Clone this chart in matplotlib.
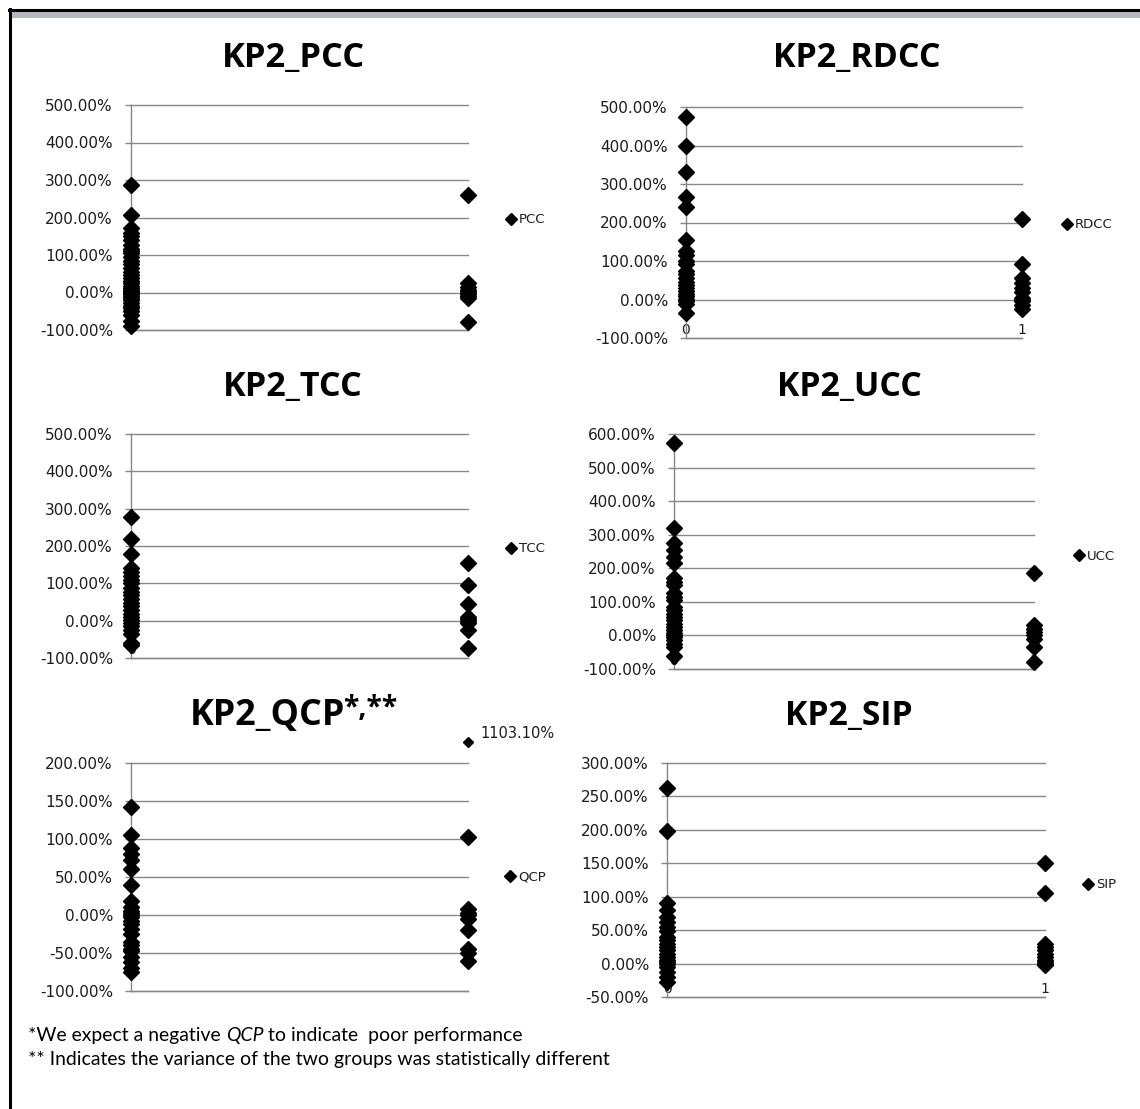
import matplotlib
matplotlib.use('Agg')
import matplotlib.pyplot as plt
from matplotlib.ticker import FuncFormatter, MultipleLocator
from matplotlib.lines import Line2D
from matplotlib.patches import Rectangle

# ---------------- data (percent values) ----------------
groups = [0, 1]
group_labels = ['0', '1']

pcc_0 = [288, 208, 172, 160, 150, 140, 128, 115, 110, 105, 95, 85, 75, 65, 55, 48, 40,
         32, 25, 18, 12, 8, 4, 1, -2, -5, -10, -15, -20, -28, -35, -42, -50, -60, -75, -88]
pcc_1 = [260, 25, 15, 8, 3, 0, -3, -8, -15, -78]

rdcc_0 = [475, 400, 332, 265, 240, 155, 125, 115, 100, 92, 75, 65, 55, 45, 38, 30, 22,
          15, 8, 2, -5, -12, -35]
rdcc_1 = [208, 92, 55, 42, 30, 20, 5, 0, -5, -15, -25]

tcc_0 = [278, 218, 178, 140, 130, 120, 110, 100, 88, 78, 68, 58, 48, 38, 28, 18, 10, 3,
         -5, -15, -25, -35, -60, -65]
tcc_1 = [155, 95, 45, 10, 5, 0, -5, -25, -72]

ucc_0 = [572, 320, 275, 255, 235, 215, 170, 160, 150, 125, 115, 105, 85, 75, 65, 55, 45,
         35, 25, 15, 8, 2, -5, -15, -25, -35, -60]
ucc_1 = [185, 30, 20, 10, 0, -10, -35, -80]

qcp_0 = [142, 105, 88, 80, 72, 60, 40, 18, 10, 5, 2, 0, -3, -8, -12, -18, -25, -35, -40,
         -45, -48, -55, -62, -70, -75]
qcp_1 = [103, 8, 3, 0, -5, -20, -45, -50, -60]
qcp_outlier_value = 1103.10
qcp_outlier_label = '1103.10%'

sip_0 = [262, 198, 90, 80, 70, 62, 55, 48, 40, 35, 30, 25, 20, 15, 10, 6, 3, 0, -5, -12,
         -20, -28]
sip_1 = [150, 105, 30, 25, 20, 15, 10, 5, 2, 0, -2]

footnote1 = ['*We expect a negative ', 'QCP', ' to indicate  poor performance']
footnote2 = '** Indicates the variance of the two groups was statistically different'

# ---------------- figure ----------------
W, H = 1140, 1109
DPI = 100
fig = plt.figure(figsize=(W / DPI, H / DPI), dpi=DPI)
fig.patch.set_facecolor('white')
renderer = fig.canvas.get_renderer()

GRID = '#878787'
TXT = '#1c1c1c'
TITLE_FONT = 'Open Sans'
NOTE_FONT = 'Lato'


def fx(px):
    return px / W


def fy(py):
    return 1 - py / H


def box(l, r, t, b):
    return [l / W, 1 - b / H, (r - l) / W, (b - t) / H]


def fit_text(x, y, s, target_w, size, **kw):
    t = fig.text(fx(x), fy(y), s, fontsize=size, **kw)
    w = t.get_window_extent(renderer).width
    t.set_fontsize(size * target_w / w)
    return t


panels = [
    dict(series='PCC', title='KP2_PCC', g0=pcc_0, g1=pcc_1, box=(131, 468, 105, 330),
         ylim=(-100, 500), step=100, leg=(511, 220), tpos=(293, 58), tw=143, xl=True),
    dict(series='RDCC', title='KP2_RDCC', g0=rdcc_0, g1=rdcc_1, box=(686, 1022, 107, 338),
         ylim=(-100, 500), step=100, leg=(1067, 225), tpos=(857, 58), tw=168, xl=True),
    dict(series='TCC', title='KP2_TCC', g0=tcc_0, g1=tcc_1, box=(131, 468, 434, 658),
         ylim=(-100, 500), step=100, leg=(511, 549), tpos=(293, 387), tw=140, xl=True),
    dict(series='UCC', title='KP2_UCC', g0=ucc_0, g1=ucc_1, box=(674, 1034, 434, 669),
         ylim=(-100, 600), step=100, leg=(1079, 556), tpos=(849, 387), tw=145, xl=True),
    dict(series='QCP', title=None, g0=qcp_0, g1=qcp_1, box=(131, 468, 763, 991),
         ylim=(-100, 200), step=50, leg=(510, 877), tpos=None, tw=None, xl=False),
    dict(series='SIP', title='KP2_SIP', g0=sip_0, g1=sip_1, box=(667, 1045, 763, 997),
         ylim=(-50, 300), step=50, leg=(1088, 885), tpos=(849, 716), tw=128, xl=True),
]

pct = FuncFormatter(lambda v, p: f"{v:.2f}%")

axes = {}
for p in panels:
    ax = fig.add_axes(box(*p['box']))
    axes[p['series']] = ax
    xs = [groups[0]] * len(p['g0']) + [groups[1]] * len(p['g1'])
    ys = list(p['g0']) + list(p['g1'])
    ax.plot(xs, ys, linestyle='none', marker='D', ms=8.5, color='black',
            clip_on=False, zorder=4, label=p['series'])
    ax.set_xlim(0, 1)
    ax.set_ylim(*p['ylim'])
    ax.yaxis.set_major_locator(MultipleLocator(p['step']))
    ax.yaxis.set_major_formatter(pct)
    ax.grid(axis='y', color=GRID, lw=1.0, zorder=0)
    for gl in ax.get_ygridlines():
        gl.set_clip_on(False)
    ax.set_axisbelow(True)
    for s in ('top', 'right'):
        ax.spines[s].set_visible(False)
    for s in ('left', 'bottom'):
        ax.spines[s].set_color(GRID)
        ax.spines[s].set_linewidth(1.0)
    ax.tick_params(axis='y', direction='out', length=4.5, width=1.0, color=GRID,
                   pad=8.5, labelsize=11, labelcolor=TXT)
    for lbl in ax.get_yticklabels():
        lbl.set_fontfamily('DejaVu Sans')
    if p['xl']:
        ax.set_xticks(groups)
        ax.set_xticklabels(group_labels)
        ax.tick_params(axis='x', length=0, pad=-11, labelsize=10, labelcolor=TXT)
    else:
        ax.set_xticks([])
    ax.set_facecolor('none')
    # legend
    lx, ly = p['leg']
    ax.legend(loc='center left', bbox_to_anchor=(fx(lx - 6), fy(ly)),
              bbox_transform=fig.transFigure, frameon=False, markerscale=0.7,
              handlelength=0.9, handletextpad=0.15, borderpad=0, borderaxespad=0,
              prop={'family': 'DejaVu Sans', 'size': 9.5}, labelcolor=TXT)
    # title
    if p['title']:
        tx, ty = p['tpos']
        fit_text(tx, ty, p['title'], p['tw'], 20, ha='center', va='center',
                 fontweight='bold', family=TITLE_FONT, color='black')

# QCP title with superscript
fit_text(345, 716, 'KP2_QCP', 155, 20, ha='right', va='center', fontweight='bold',
         family=TITLE_FONT, color='black')
fit_text(343, 708, '*,**', 54, 20, ha='left', va='center', fontweight='bold',
         family=TITLE_FONT, color='black')

# QCP outlier shown above the axis with its value
axq = axes['QCP']
axq.plot([groups[1]], [228], linestyle='none', marker='D', ms=5, color='black',
         clip_on=False, zorder=4)
fig.text(fx(480), fy(733), qcp_outlier_label, fontsize=10.5, family='DejaVu Sans',
         color=TXT, ha='left', va='center')

# footnotes
x0 = 28
t_ref = fit_text(x0, 1060, footnote2, 579, 11, family=NOTE_FONT, color='black',
                 va='center')
sz = t_ref.get_fontsize()
t = fig.text(fx(x0), fy(1035), footnote1[0], fontsize=sz, family=NOTE_FONT,
             color='black', va='center')
cur = x0 + t.get_window_extent(renderer).width
t2 = fig.text(fx(cur), fy(1035), footnote1[1], fontsize=sz, family=NOTE_FONT,
              style='italic', color='black', va='center')
cur += t2.get_window_extent(renderer).width
fig.text(fx(cur), fy(1035), footnote1[2], fontsize=sz, family=NOTE_FONT,
         color='black', va='center')

# outer frame (top and left edges of screenshot)
fig.add_artist(Rectangle((fx(10), fy(18)), 1, 7 / H, transform=fig.transFigure,
                         facecolor='#b5b8be', edgecolor='none'))
fig.add_artist(Line2D([fx(9), 1], [fy(10), fy(10)], transform=fig.transFigure,
                      color='black', lw=2.2))
fig.add_artist(Line2D([fx(10), fx(10)], [fy(9), 0], transform=fig.transFigure,
                      color='black', lw=2.2))

fig.savefig('out.png', dpi=DPI)
